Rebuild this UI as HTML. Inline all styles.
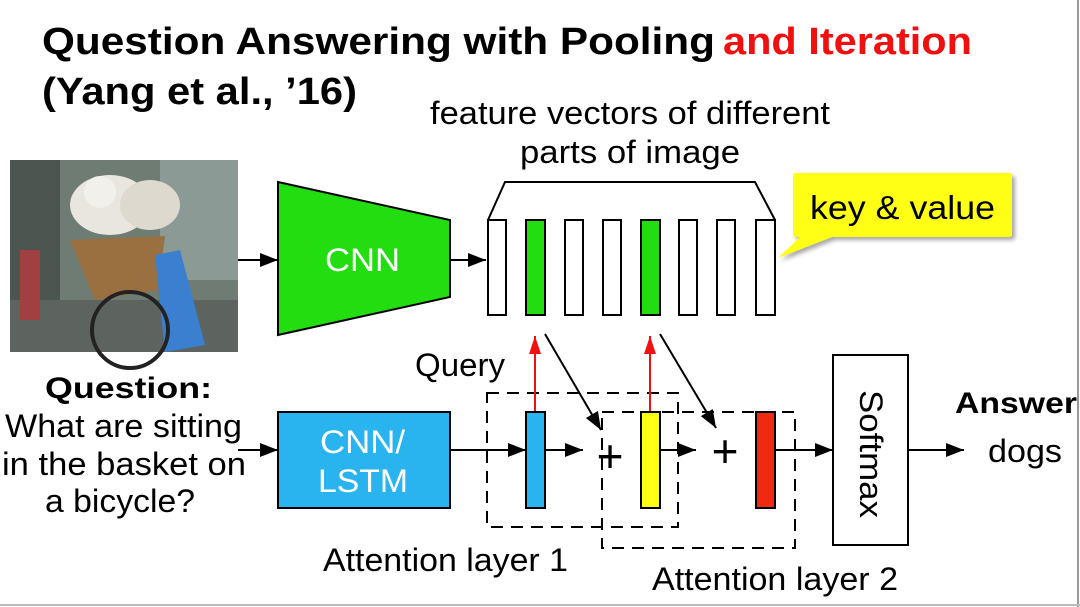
<!DOCTYPE html>
<html><head><meta charset="utf-8"><style>
body{margin:0;background:#fff;}
svg{display:block;font-family:"Liberation Sans",Arial,sans-serif;}
</style></head><body>
<svg width="1080" height="607" viewBox="0 0 1080 607" xmlns="http://www.w3.org/2000/svg">
<defs>
<marker id="ab" markerWidth="20" markerHeight="14" refX="18" refY="7" orient="auto" markerUnits="userSpaceOnUse"><path d="M0,0 L18,7 L0,14z" fill="#000"/></marker>
<marker id="ar" markerWidth="20" markerHeight="12" refX="18" refY="6" orient="auto" markerUnits="userSpaceOnUse"><path d="M0,0 L18,6 L0,12z" fill="#f01010"/></marker>
<filter id="sh"><feDropShadow dx="3" dy="3" stdDeviation="2" flood-color="#000" flood-opacity="0.35"/></filter>
</defs>
<rect x="0" y="0" width="1080" height="607" fill="#fff"/>
<line x1="1078" y1="0" x2="1078" y2="607" stroke="#999" stroke-width="2"/>
<line x1="0" y1="605" x2="1080" y2="605" stroke="#bbb" stroke-width="2"/>
<text x="42" y="54" font-size="38" font-weight="bold" textLength="673" lengthAdjust="spacingAndGlyphs">Question Answering with Pooling</text>
<text x="723" y="54" font-size="38" font-weight="bold" fill="#f01010" textLength="249" lengthAdjust="spacingAndGlyphs">and Iteration</text>
<text x="42" y="104" font-size="38" font-weight="bold" textLength="315" lengthAdjust="spacingAndGlyphs">(Yang et al., ’16)</text>
<text x="430" y="124" font-size="32" textLength="400" lengthAdjust="spacingAndGlyphs">feature vectors of different</text>
<text x="520" y="163" font-size="32" textLength="220" lengthAdjust="spacingAndGlyphs">parts of image</text>
<!-- photo -->
<rect x="10" y="160" width="228" height="192" fill="#6f7c74"/>
<rect x="10" y="160" width="50" height="192" fill="#4c5650"/>
<rect x="160" y="160" width="78" height="120" fill="#8c9a96"/>
<rect x="10" y="300" width="228" height="52" fill="#5d6460"/>
<ellipse cx="110" cy="205" rx="40" ry="30" fill="#e8e6de"/>
<ellipse cx="150" cy="205" rx="30" ry="25" fill="#ddd9cf"/>
<ellipse cx="100" cy="192" rx="16" ry="16" fill="#f2f0ea"/>
<path d="M70 240 L165 236 L158 290 L95 300z" fill="#9a7040"/>
<path d="M155 255 L180 250 L205 345 L165 352z" fill="#3b7fd0"/>
<circle cx="130" cy="330" r="38" fill="none" stroke="#222" stroke-width="4"/>
<rect x="20" y="250" width="20" height="70" fill="#a04040"/>
<!-- CNN trapezoid -->
<polygon points="278,182 450,220 450,297 278,335" fill="#22dd10" stroke="#000" stroke-width="2"/>
<text x="325" y="271" font-size="32" fill="#fff" textLength="75" lengthAdjust="spacingAndGlyphs">CNN</text>
<line x1="238" y1="260" x2="278" y2="260" stroke="#000" stroke-width="2" marker-end="url(#ab)"/>
<line x1="450" y1="260" x2="486" y2="260" stroke="#000" stroke-width="2" marker-end="url(#ab)"/>
<polyline points="488,220 505,182 755,182 775,220" fill="none" stroke="#000" stroke-width="2"/>
<g stroke="#000" stroke-width="2">
<rect x="488" y="220" width="18" height="95" fill="#fff"/>
<rect x="526" y="220" width="19" height="95" fill="#22dd10"/>
<rect x="565" y="220" width="18" height="95" fill="#fff"/>
<rect x="603" y="220" width="18" height="95" fill="#fff"/>
<rect x="641" y="220" width="19" height="95" fill="#22dd10"/>
<rect x="679" y="220" width="18" height="95" fill="#fff"/>
<rect x="717" y="220" width="18" height="95" fill="#fff"/>
<rect x="756" y="220" width="19" height="95" fill="#fff"/>
</g>
<path d="M796,173 L1010,173 Q1012,173 1012,176 L1012,234 Q1012,237 1009,237 L832,237 L778,258 L800,237 L796,237 Q793,237 793,234 L793,176 Q793,173 796,173z" fill="#ffff14" filter="url(#sh)"/>
<text x="810" y="219" font-size="33" textLength="185" lengthAdjust="spacingAndGlyphs">key &amp; value</text>
<!-- question -->
<text x="45" y="398" font-size="30" font-weight="bold" textLength="167" lengthAdjust="spacingAndGlyphs">Question:</text>
<text x="5" y="437" font-size="32" textLength="237" lengthAdjust="spacingAndGlyphs">What are sitting</text>
<text x="2" y="475" font-size="32" textLength="244" lengthAdjust="spacingAndGlyphs">in the basket on</text>
<text x="45" y="512" font-size="32" textLength="150" lengthAdjust="spacingAndGlyphs">a bicycle?</text>
<rect x="278" y="412" width="172" height="96" fill="#2ab4ef" stroke="#000" stroke-width="2"/>
<text x="320" y="453" font-size="32" fill="#fff" textLength="85" lengthAdjust="spacingAndGlyphs">CNN/</text>
<text x="318" y="492" font-size="32" fill="#fff" textLength="90" lengthAdjust="spacingAndGlyphs">LSTM</text>
<line x1="238" y1="450" x2="278" y2="450" stroke="#000" stroke-width="2" marker-end="url(#ab)"/>
<text x="415" y="376" font-size="32" textLength="90" lengthAdjust="spacingAndGlyphs">Query</text>
<rect x="487" y="393" width="191" height="134" fill="none" stroke="#000" stroke-width="2" stroke-dasharray="12,8"/>
<rect x="602" y="412" width="193" height="136" fill="none" stroke="#000" stroke-width="2" stroke-dasharray="12,8"/>
<line x1="450" y1="450" x2="526" y2="450" stroke="#000" stroke-width="2" marker-end="url(#ab)"/>
<rect x="526" y="412" width="19" height="96" fill="#2ab4ef" stroke="#000" stroke-width="2"/>
<line x1="545" y1="450" x2="583" y2="450" stroke="#000" stroke-width="2" marker-end="url(#ab)"/>
<text x="610" y="472" font-size="46" text-anchor="middle">+</text>
<rect x="641" y="412" width="19" height="96" fill="#ffff14" stroke="#000" stroke-width="2"/>
<line x1="660" y1="450" x2="696" y2="450" stroke="#000" stroke-width="2" marker-end="url(#ab)"/>
<text x="725" y="467" font-size="46" text-anchor="middle">+</text>
<rect x="756" y="412" width="19" height="96" fill="#f02a10" stroke="#000" stroke-width="2"/>
<line x1="775" y1="450" x2="833" y2="450" stroke="#000" stroke-width="2" marker-end="url(#ab)"/>
<line x1="535" y1="411" x2="535" y2="336" stroke="#f01010" stroke-width="2" marker-end="url(#ar)"/>
<line x1="650" y1="411" x2="650" y2="336" stroke="#f01010" stroke-width="2" marker-end="url(#ar)"/>
<line x1="545" y1="334" x2="601" y2="430" stroke="#000" stroke-width="2" marker-end="url(#ab)"/>
<line x1="660" y1="334" x2="716" y2="428" stroke="#000" stroke-width="2" marker-end="url(#ab)"/>
<rect x="833" y="355" width="75" height="190" fill="#fff" stroke="#000" stroke-width="2"/>
<text transform="translate(860,390) rotate(90)" font-size="32" textLength="128" lengthAdjust="spacingAndGlyphs">Softmax</text>
<line x1="908" y1="450" x2="964" y2="450" stroke="#000" stroke-width="2" marker-end="url(#ab)"/>
<text x="955" y="413" font-size="30" font-weight="bold" textLength="122" lengthAdjust="spacingAndGlyphs">Answer</text>
<text x="988" y="462" font-size="32" textLength="74" lengthAdjust="spacingAndGlyphs">dogs</text>
<text x="323" y="571" font-size="32" textLength="245" lengthAdjust="spacingAndGlyphs">Attention layer 1</text>
<text x="652" y="590" font-size="32" textLength="246" lengthAdjust="spacingAndGlyphs">Attention layer 2</text>
</svg>
</body></html>
